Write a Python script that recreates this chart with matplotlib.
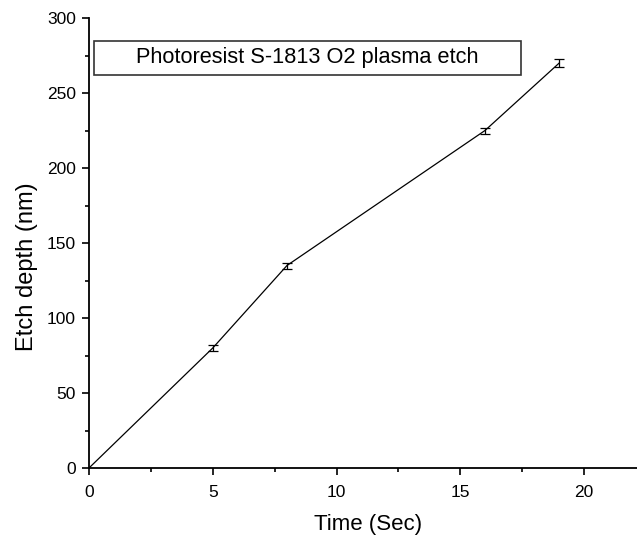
import numpy as np
import matplotlib.pyplot as plt
from matplotlib.patches import Rectangle

plt.rcParams['font.family'] = ['Liberation Sans', 'DejaVu Sans']

# data
time_s = [0, 5, 8, 16, 19]
depth_nm = [0, 80, 135, 225, 270]
depth_err = [0, 2, 2, 2, 2.5]
legend_text = 'Photoresist S-1813 O2 plasma etch'

fig = plt.figure(figsize=(6.37, 5.4), dpi=100)
ax = fig.add_axes([89 / 637, 72 / 540, 548 / 637, 450 / 540])

t = np.array(time_s)
d = np.array(depth_nm)
e = np.array(depth_err)
ax.plot(t, d, color='black', lw=0.9)
m = e > 0
ax.errorbar(t[m], d[m], yerr=e[m], fmt='none', ecolor='black', elinewidth=0.9,
            capsize=3.5, capthick=0.9)

ax.set_xlim(0, 548 / 24.75)
ax.set_ylim(0, 300)
ax.set_xticks([0, 5, 10, 15, 20])
ax.set_xticks(np.arange(2.5, 22, 5), minor=True)
ax.set_yticks(np.arange(0, 301, 50))
ax.set_yticks(np.arange(25, 300, 50), minor=True)

for s in ['top', 'right']:
    ax.spines[s].set_visible(False)
for s in ['left', 'bottom']:
    ax.spines[s].set_linewidth(1.3)

ax.tick_params(which='major', direction='out', length=5, width=1.2, labelsize=12.5)
ax.tick_params(axis='x', which='major', pad=7)
ax.tick_params(axis='y', which='major', pad=4.5)
ax.tick_params(which='minor', direction='out', length=3, width=1.2)

ax.set_xlabel('Time (Sec)', fontsize=16, labelpad=10.5)
ax.xaxis.label.set_x(0.509)
ax.set_ylabel('Etch depth (nm)', fontsize=17, labelpad=6)
ax.yaxis.label.set_y(0.447)

# legend box
ax.add_patch(Rectangle((5 / 548, 393 / 450), 427 / 548, 34 / 450, transform=ax.transAxes,
                       fill=False, edgecolor='#333333', lw=1.2, clip_on=False))
ax.text((5 + 427 / 2) / 548, 410 / 450, legend_text, transform=ax.transAxes,
        ha='center', va='center', fontsize=15.7)

plt.savefig('out.png', dpi=100)
